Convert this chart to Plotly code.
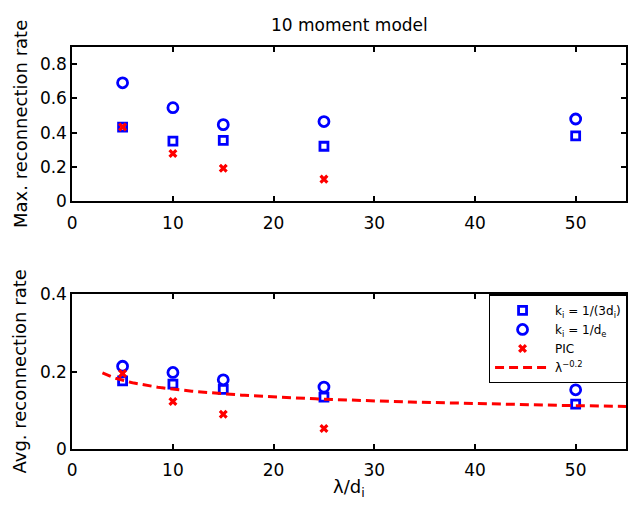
import numpy as np
import plotly.graph_objects as go

# wavelength lambda / d_i for each run
lam = [5, 10, 15, 25, 50]
lam_pic = [5, 10, 15, 25]

# maximum reconnection rate
max_k3di = [0.433, 0.351, 0.355, 0.321, 0.381]
max_kde = [0.691, 0.546, 0.447, 0.465, 0.480]
max_pic = [0.433, 0.279, 0.192, 0.129]

# time-averaged reconnection rate
avg_k3di = [0.176, 0.168, 0.154, 0.134, 0.116]
avg_kde = [0.214, 0.198, 0.179, 0.160, 0.153]
avg_pic = [0.195, 0.123, 0.090, 0.053]

# power-law guide  c * lambda^p
fit_coef = 0.245
fit_exp = -0.2
fit_lam = np.linspace(3, 55, 200)
fit_val = fit_coef * fit_lam ** fit_exp

x_ticks = [0, 10, 20, 30, 40, 50]
top_yticks = [0, 0.2, 0.4, 0.6, 0.8]
bot_yticks = [0, 0.2, 0.4]

W, H = 628, 513
FONT = "DejaVu Sans, sans-serif"
BLUE = "#0000ff"
RED = "#ff0000"

sq = dict(symbol="square-open", size=8, color=BLUE, line=dict(width=2.8, color=BLUE))
ci = dict(symbol="circle-open", size=10, color=BLUE, line=dict(width=2.8, color=BLUE))
xx = dict(symbol="x", size=8, color=RED, line=dict(width=0))

fig = go.Figure()
# upper panel
fig.add_trace(go.Scatter(x=lam, y=max_k3di, mode="markers", marker=sq, showlegend=False, xaxis="x", yaxis="y"))
fig.add_trace(go.Scatter(x=lam, y=max_kde, mode="markers", marker=ci, showlegend=False, xaxis="x", yaxis="y"))
fig.add_trace(go.Scatter(x=lam_pic, y=max_pic, mode="markers", marker=xx, showlegend=False, xaxis="x", yaxis="y"))
# lower panel
fig.add_trace(go.Scatter(x=lam, y=avg_k3di, mode="markers", marker=sq,
                         name="k<sub>i</sub> = 1/(3d<sub>i</sub>)", xaxis="x2", yaxis="y2"))
fig.add_trace(go.Scatter(x=lam, y=avg_kde, mode="markers", marker=ci,
                         name="k<sub>i</sub> = 1/d<sub>e</sub>", xaxis="x2", yaxis="y2"))
fig.add_trace(go.Scatter(x=lam_pic, y=avg_pic, mode="markers", marker=xx,
                         name="PIC", xaxis="x2", yaxis="y2"))
fig.add_trace(go.Scatter(x=fit_lam, y=fit_val, mode="lines",
                         line=dict(color=RED, width=3, dash="9px,5px"),
                         name="λ<sup>−0.2</sup>", xaxis="x2", yaxis="y2"))

ax_common = dict(showgrid=False, zeroline=False, showline=True, linecolor="black",
                 linewidth=1.8, mirror="ticks", ticks="inside", ticklen=5,
                 tickwidth=1.5, tickcolor="black",
                 tickfont=dict(family=FONT, size=17, color="black"))

xdom = [68 / W, 1.0]
top_dom = [1 - 199 / H, 1 - 38.5 / H]
bot_dom = [1 - 456.7 / H, 1 - 296 / H]


def label(text, x, y, angle=0, size=18):
    return dict(text=text, x=x, y=y, xref="paper", yref="paper", xanchor="center",
                yanchor="middle", textangle=angle, showarrow=False,
                font=dict(family=FONT, size=size, color="black"))


fig.update_layout(
    width=W, height=H,
    margin=dict(l=0, r=0, t=0, b=0),
    paper_bgcolor="white", plot_bgcolor="white",
    xaxis=dict(ax_common, domain=xdom, range=[0, 55], tickvals=x_ticks, anchor="y",
               ticklabelstandoff=5),
    yaxis=dict(ax_common, domain=top_dom, range=[0, 0.9], tickvals=top_yticks, anchor="x",
               ticklabelstandoff=0),
    xaxis2=dict(ax_common, domain=xdom, range=[0, 55], tickvals=x_ticks, anchor="y2",
                ticklabelstandoff=5),
    yaxis2=dict(ax_common, domain=bot_dom, range=[0, 0.4], tickvals=bot_yticks, anchor="x2",
                ticklabelstandoff=0),
    legend=dict(x=489 / W, y=1 - 296 / H, xanchor="left", yanchor="top",
                bgcolor="white", bordercolor="black", borderwidth=1.5,
                font=dict(family=FONT, size=12, color="black"),
                itemwidth=55, tracegroupgap=0),
    annotations=[
        label("10 moment model", (68 + 628) / 2 / W, 1 - 16 / H, size=17),
        label("Max. reconnection rate", 15 / W, (top_dom[0] + top_dom[1]) / 2, angle=-90),
        label("Avg. reconnection rate", 15 / W, (bot_dom[0] + bot_dom[1]) / 2, angle=-90),
        label("λ/d<sub>i</sub>", (68 + 628) / 2 / W, 1 - 497 / H),
    ],
)

fig.write_html("out.html")
